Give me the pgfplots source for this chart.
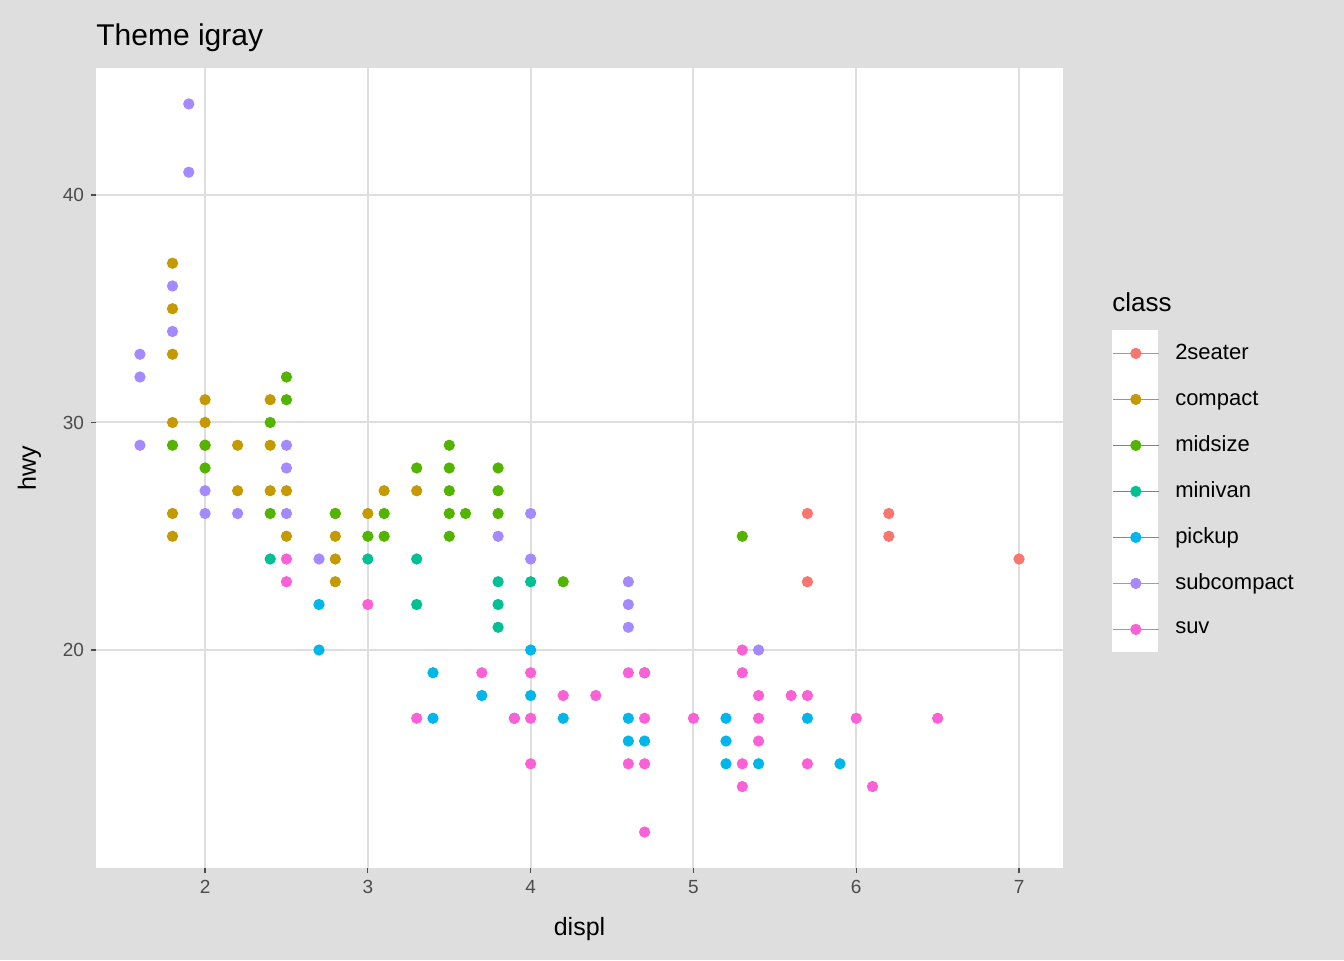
\documentclass[border=0pt]{standalone}
\usepackage{pgfplots}
\pgfplotsset{compat=1.18}
\usepackage{fontspec}
\setmainfont{Liberation Sans}
\definecolor{bg}{HTML}{DEDEDE}
\definecolor{cA}{HTML}{F8766D}
\definecolor{cB}{HTML}{C49A00}
\definecolor{cC}{HTML}{53B400}
\definecolor{cD}{HTML}{00C094}
\definecolor{cE}{HTML}{00B6EB}
\definecolor{cF}{HTML}{A58AFF}
\definecolor{cG}{HTML}{FB61D7}
\begin{document}
\begin{tikzpicture}
\fill[bg] (-48pt,-46pt) rectangle (624pt,434pt);
\fill[white] (508pt,108pt) rectangle (531pt,269pt);
\node[anchor=base west, font=\fontsize{13}{15}\selectfont, inner sep=0pt] at (508pt,278pt) {class};
\node[anchor=base west, font=\fontsize{15}{17}\selectfont, inner sep=0pt] at (0pt,411pt) {Theme igray};
\begin{axis}[
  at={(0,0)}, anchor=south west, scale only axis,
  width=483.5pt, height=400pt,
  xmin=1.33, xmax=7.27, ymin=10.42, ymax=45.58,
  xtick={2,3,4,5,6,7}, ytick={20,30,40},
  axis background/.style={fill=white},
  grid=major, major grid style={color=bg, line width=1pt},
  axis x line*=bottom, axis y line*=left, axis line style={draw=none},
  tick align=outside, major tick length=2.5pt,
  tick style={color=black!70, line width=0.6pt},
  ticklabel style={font=\fontsize{9.5}{10}\selectfont, text=black!70},
  /pgf/number format/assume math mode=true,
  xlabel={displ}, ylabel={hwy},
  label style={font=\fontsize{12.5}{14}\selectfont},
  xlabel style={yshift=-5pt}, ylabel style={yshift=4pt},
  legend style={at={(1.0507,0.6725)}, anchor=north west, draw=none, fill=none,
    font=\fontsize{11}{12}\selectfont, inner sep=0pt,
    nodes={minimum height=23pt, inner sep=0pt},
    /tikz/every odd column/.append style={column sep=8pt}},
  legend cell align=left,
  legend image code/.code={\path (0,0) -- (23pt,0); \fill[#1] (11.5pt,0) circle[radius=2.6pt];},
  every axis plot/.append style={only marks, mark=*, mark size=2.6pt},
]
\addplot[cA, mark options={fill=cA, draw=cA}] coordinates {(5.7,26)(5.7,23)(6.2,26)(6.2,25)(7,24)};
\addlegendentry{2seater}
\addplot[cB, mark options={fill=cB, draw=cB}] coordinates {(1.8,37)(1.8,35)(1.8,33)(1.8,30)(1.8,26)(1.8,25)(2,31)(2,30)(2,29)(2.2,29)(2.2,27)(2.4,31)(2.4,29)(2.4,27)(2.5,27)(2.5,25)(2.8,26)(2.8,25)(2.8,24)(2.8,23)(3,26)(3.1,27)(3.3,27)};
\addlegendentry{compact}
\addplot[cC, mark options={fill=cC, draw=cC}] coordinates {(1.8,29)(2,29)(2,28)(2.4,30)(2.4,26)(2.5,32)(2.5,31)(2.8,26)(3,25)(3.1,26)(3.1,25)(3.3,28)(3.5,29)(3.5,28)(3.5,27)(3.5,26)(3.5,25)(3.6,26)(3.8,28)(3.8,27)(3.8,26)(4.2,23)(5.3,25)};
\addlegendentry{midsize}
\addplot[cD, mark options={fill=cD, draw=cD}] coordinates {(2.4,24)(3,24)(3.3,24)(3.3,22)(3.8,23)(3.8,22)(3.8,21)(4,23)};
\addlegendentry{minivan}
\addplot[cE, mark options={fill=cE, draw=cE}] coordinates {(2.7,22)(2.7,20)(3.4,19)(3.4,17)(3.7,18)(3.9,17)(4,20)(4,18)(4.2,17)(4.6,17)(4.6,16)(4.7,19)(4.7,16)(5.2,17)(5.2,16)(5.2,15)(5.4,15)(5.7,17)(5.9,15)};
\addlegendentry{pickup}
\addplot[cF, mark options={fill=cF, draw=cF}] coordinates {(1.6,33)(1.6,32)(1.6,29)(1.8,36)(1.8,34)(1.9,44)(1.9,41)(2,27)(2,26)(2.2,26)(2.5,29)(2.5,28)(2.5,26)(2.7,24)(3.8,25)(4,26)(4,24)(4.6,23)(4.6,22)(4.6,21)(5.4,20)};
\addlegendentry{subcompact}
\addplot[cG, mark options={fill=cG, draw=cG}] coordinates {(2.5,24)(2.5,23)(3,22)(3.3,17)(3.7,19)(3.9,17)(4,19)(4,17)(4,15)(4.2,18)(4.4,18)(4.6,19)(4.6,15)(4.7,19)(4.7,17)(4.7,15)(4.7,12)(5,17)(5.3,20)(5.3,19)(5.3,15)(5.3,14)(5.4,18)(5.4,17)(5.4,16)(5.6,18)(5.7,18)(5.7,15)(6,17)(6.1,14)(6.5,17)};
\addlegendentry{suv}
\end{axis}
\end{tikzpicture}
\end{document}
